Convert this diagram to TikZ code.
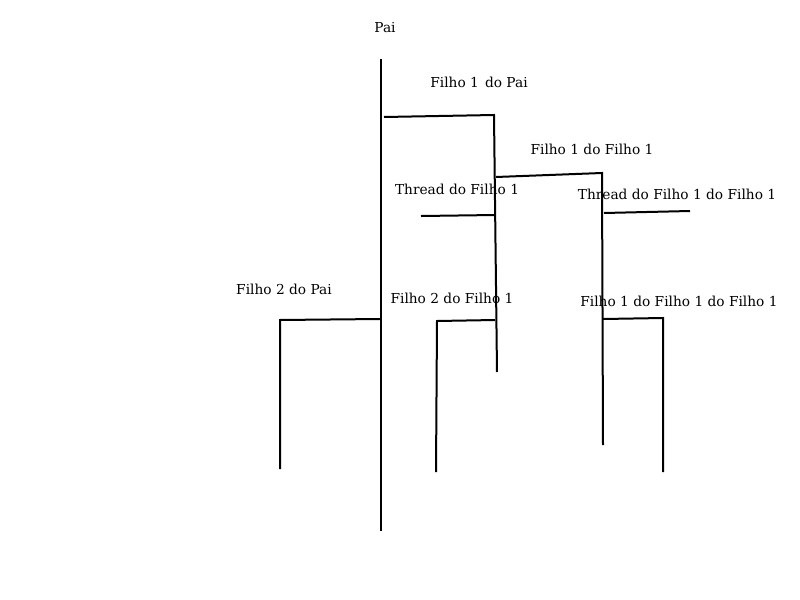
\documentclass[tikz,border=0pt]{standalone}
\usepackage{fontspec}
\setmainfont{DejaVu Serif}
\begin{document}
\begin{tikzpicture}[x=0.75pt,y=-0.75pt,
  lbl/.style={inner sep=0pt,font=\fontsize{10.3pt}{12pt}\selectfont},
  ln/.style={line width=1.5pt}]
\useasboundingbox (0,0) rectangle (800,600);
% labels
\node[lbl] (pai) at (385,28) {Pai};
\node[lbl] (f1p) at (479,82) {Filho 1\hspace{0.45em}do Pai};
\node[lbl] (f1f1) at (592,149) {Filho 1 do Filho 1};
\node[lbl] (tf1) at (457,189) {Thread do Filho 1};
\node[lbl] (tf1f1) at (677,194) {Thread do Filho 1 do Filho 1};
\node[lbl] (f2p) at (284,289) {Filho 2 do Pai};
\node[lbl] (f2f1) at (452,298) {Filho 2 do Filho 1};
\node[lbl] (f1f1f1) at (679,301) {Filho 1 do Filho 1 do Filho 1};
% coordinates
\coordinate (paiT) at (381,59);
\coordinate (paiB) at (381,531);
\coordinate (a1) at (384,117);
\coordinate (a2) at (494,115);
\coordinate (a3) at (497,372);
\coordinate (b1) at (496,177);
\coordinate (b2) at (602,173);
\coordinate (b3) at (603,445);
\coordinate (c1) at (421,216);
\coordinate (c2) at (495,215);
\coordinate (d1) at (604,213);
\coordinate (d2) at (690,211);
\coordinate (e1) at (380,319);
\coordinate (e2) at (280,320);
\coordinate (e3) at (280,469);
\coordinate (g1) at (495,320);
\coordinate (g2) at (437,321);
\coordinate (g3) at (436,472);
\coordinate (h1) at (603,319);
\coordinate (h2) at (663,318);
\coordinate (h3) at (663,472);
% lines
\draw[ln] (paiT) -- (paiB);
\draw[ln] (a1) -- (a2) -- (a3);
\draw[ln] (b1) -- (b2) -- (b3);
\draw[ln] (c1) -- (c2);
\draw[ln] (d1) -- (d2);
\draw[ln] (e1) -- (e2) -- (e3);
\draw[ln] (g1) -- (g2) -- (g3);
\draw[ln] (h1) -- (h2) -- (h3);
\end{tikzpicture}
\end{document}
